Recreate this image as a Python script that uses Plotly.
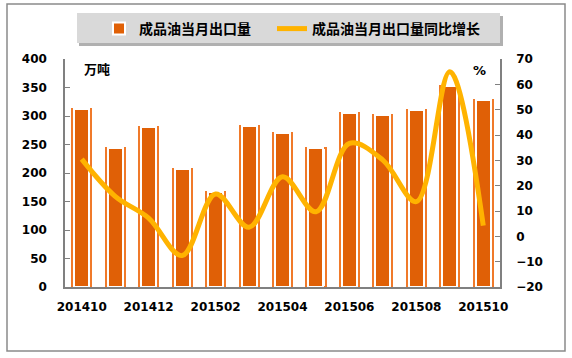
import plotly.graph_objects as go

months = ["201410", "201411", "201412", "201501", "201502", "201503", "201504",
          "201505", "201506", "201507", "201508", "201509", "201510"]
export_volume = [313, 243, 281, 207, 167, 283, 271, 243, 305, 301, 311, 352, 328]
yoy_growth = [30.5, 15.8, 7.2, -7.6, 16.7, 3.6, 23.5, 9.7, 36.7, 30.1, 13.7, 65.0, 4.2]
tick_labels = ["201410", "201412", "201502", "201504", "201506", "201508", "201510"]

bar_name = "成品油当月出口量"
line_name = "成品油当月出口量同比增长"

BAR = "#E06006"
BAR_EDGE = "#F07A2A"
LINE = "#FFB300"
FONT = "DejaVu Sans, Noto Sans CJK SC"

fig = go.Figure()
# outer frame of each bar (white with orange edge)
fig.add_trace(go.Bar(x=months, y=export_volume, width=0.57, showlegend=False,
                     marker=dict(color="white", line=dict(color=BAR_EDGE, width=2)),
                     hoverinfo="skip"))
# inner filled bar
fig.add_trace(go.Bar(x=months, y=export_volume, width=0.45, name=bar_name, legend="legend",
                     marker=dict(color=BAR, line=dict(color="white", width=2))))
fig.add_trace(go.Scatter(x=months, y=yoy_growth, name=line_name, yaxis="y2", legend="legend2",
                         mode="lines", line=dict(color=LINE, width=5, shape="spline", smoothing=1.0)))

W, H = 572, 358
L, R, T, B = 65, 72, 59, 71
pw, ph = W - L - R, H - T - B

def px(x):
    return (x - L) / pw

def py(y):
    return (H - B - y) / ph

shapes = [
    dict(type="rect", xref="paper", yref="paper", x0=px(7), x1=px(565), y0=py(351), y1=py(4),
         line=dict(color="#8a8a8a", width=1.5), fillcolor="rgba(0,0,0,0)", layer="below"),
    dict(type="rect", xref="paper", yref="paper", x0=px(79), x1=px(503), y0=py(46), y1=py(16),
         line=dict(width=0), fillcolor="#b0b0b0", layer="below"),
    dict(type="rect", xref="paper", yref="paper", x0=px(77), x1=px(500), y0=py(43), y1=py(13),
         line=dict(width=0), fillcolor="#d9d9d9", layer="below"),
]

legend_common = dict(orientation="h", y=py(13), xanchor="left", yanchor="top",
                     bgcolor="rgba(0,0,0,0)", font=dict(size=14, weight="bold"))

fig.update_layout(
    width=W, height=H,
    margin=dict(l=L, r=R, t=T, b=B, autoexpand=False),
    paper_bgcolor="white", plot_bgcolor="white",
    barmode="overlay", bargap=0,
    font=dict(family=FONT, size=12, color="black", weight="bold"),
    showlegend=True,
    legend=dict(x=px(99), **legend_common),
    legend2=dict(x=px(272), **legend_common),
    shapes=shapes,
    xaxis=dict(type="category", tickmode="array", tickvals=tick_labels, ticktext=tick_labels,
               showline=True, linecolor="#808080", linewidth=1.5, ticks="",
               showgrid=False, zeroline=False, ticklabelstandoff=8, automargin=False,
               tickfont=dict(size=12, weight="bold")),
    yaxis=dict(range=[0, 400], dtick=50, showline=True, linecolor="#808080", linewidth=1.5,
               ticks="inside", ticklen=5, tickcolor="#808080", showgrid=False, zeroline=False,
               ticklabelstandoff=14, automargin=False, tickfont=dict(size=12, weight="bold")),
    yaxis2=dict(range=[-20, 70], dtick=10, overlaying="y", side="right", showline=True,
                linecolor="#808080", linewidth=1.5, ticks="inside", ticklen=5, tickcolor="#808080",
                showgrid=False, zeroline=False, ticklabelstandoff=12, automargin=False,
                tickfont=dict(size=12, weight="bold")),
    annotations=[
        dict(text="万吨", xref="paper", yref="paper", x=px(97), y=py(69), showarrow=False,
             xanchor="center", yanchor="middle", font=dict(size=13, weight="bold")),
        dict(text="%", xref="paper", yref="paper", x=px(479), y=py(70), showarrow=False,
             xanchor="center", yanchor="middle", font=dict(size=13, weight="bold")),
    ],
)

fig.write_html("out.html", config={"displayModeBar": False},
               post_script="document.body.style.margin='0';")
